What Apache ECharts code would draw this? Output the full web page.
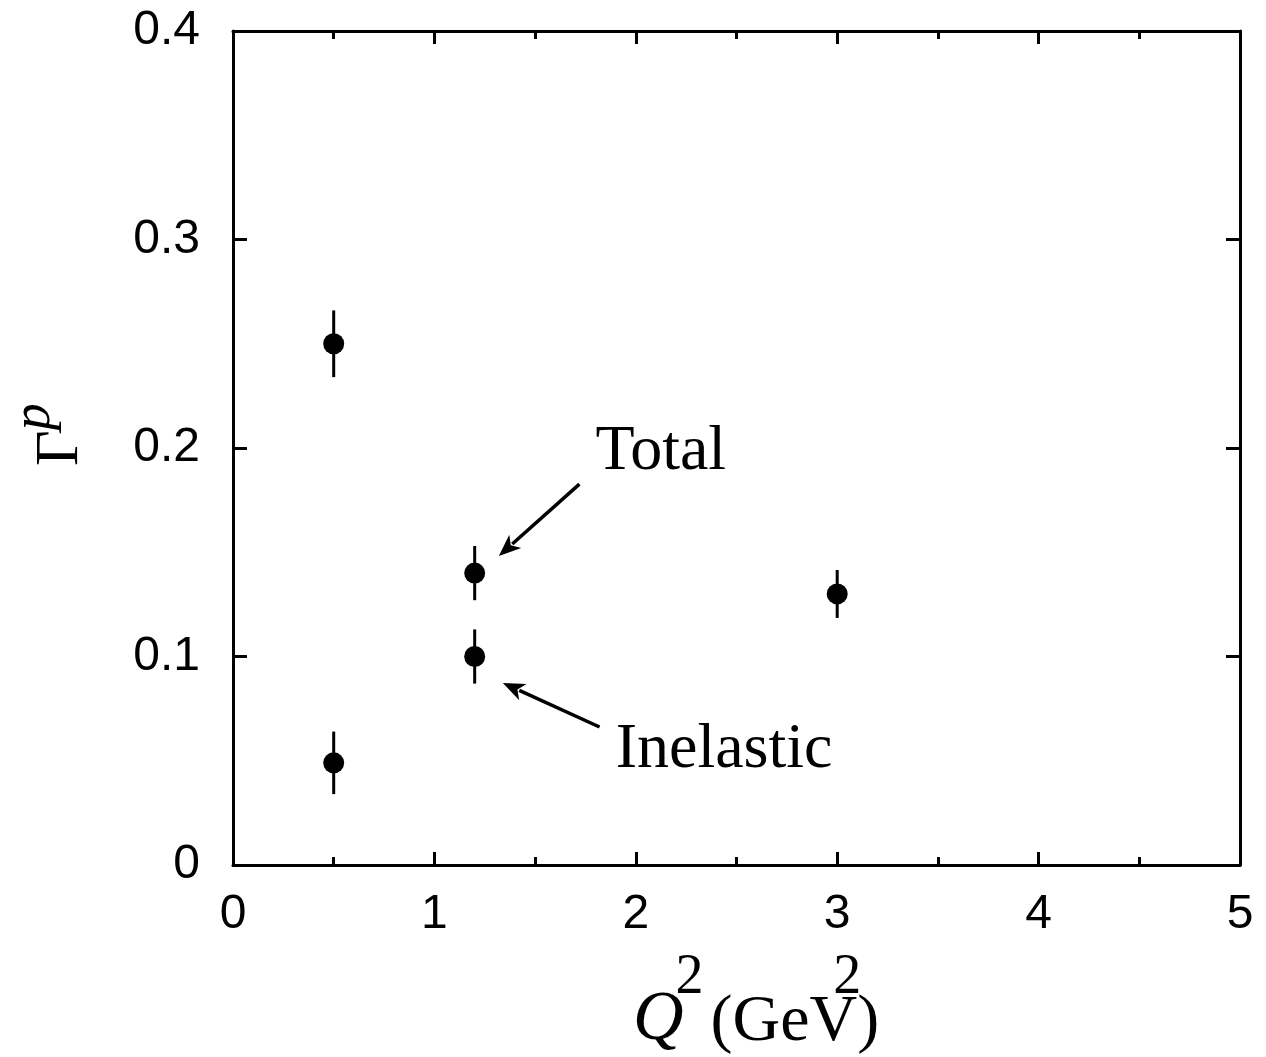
<!DOCTYPE html>
<html>
<head>
<meta charset="utf-8">
<script src="https://cdn.jsdelivr.net/npm/echarts@6/dist/echarts.min.js"></script>
<style>
html,body{margin:0;padding:0;background:#fff;}
#chart{width:1266px;height:1057px;}
</style>
</head>
<body>
<div id="chart"></div>
<script>
// Data
var q2Values = [0.5, 0.5, 1.2, 1.2, 3.0];
var gammaValues = [0.250, 0.049, 0.140, 0.100, 0.130];
var gammaErrors = [0.016, 0.015, 0.013, 0.013, 0.0115];
var xTicks = [0, 1, 2, 3, 4, 5];
var yTicks = [0, 0.1, 0.2, 0.3, 0.4];
// Annotations (data coordinates)
var annotationTexts = ['Total', 'Inelastic'];
var annotationTextPos = [[1.80, 0.198], [1.90, 0.0552]];
var arrowStarts = [[1.72, 0.1827], [1.82, 0.0662]];
var arrowEnds = [[1.32, 0.1482], [1.34, 0.0873]];

var points = q2Values.map(function (x, i) { return [x, gammaValues[i]]; });
var errData = q2Values.map(function (x, i) { return [x, gammaValues[i] - gammaErrors[i], gammaValues[i] + gammaErrors[i]]; });
var arrowData = arrowStarts.map(function (s, i) { return [s[0], s[1], arrowEnds[i][0], arrowEnds[i][1]]; });

var chart = echarts.init(document.getElementById('chart'));
var lineStyle = { color: '#000', width: 3 };
var tickFont = { fontFamily: 'Liberation Sans, Arial, sans-serif', fontSize: 48, color: '#000' };

function xAxisCfg(pos, showLabel) {
  return {
    type: 'value', position: pos, min: xTicks[0], max: xTicks[xTicks.length - 1], interval: 1,
    axisLine: { show: true, onZero: false, lineStyle: lineStyle },
    axisTick: { show: true, inside: true, length: 13, lineStyle: { color: '#000', width: 3 } },
    minorTick: { show: true, splitNumber: 2, length: 8, lineStyle: { color: '#000', width: 3 } },
    axisLabel: Object.assign({ show: showLabel, margin: 26 }, tickFont),
    splitLine: { show: false }
  };
}
function yAxisCfg(pos, showLabel) {
  return {
    type: 'value', position: pos, min: yTicks[0], max: yTicks[yTicks.length - 1], interval: 0.1,
    axisLine: { show: true, onZero: false, lineStyle: lineStyle },
    axisTick: { show: true, inside: true, length: 14, lineStyle: { color: '#000', width: 3 } },
    axisLabel: Object.assign({ show: showLabel, margin: 33, formatter: function (v) { return v === 0 ? '0' : v.toFixed(1); } }, tickFont),
    splitLine: { show: false }
  };
}

var option = {
  backgroundColor: '#fff',
  animation: false,
  grid: { left: 233, right: 26, top: 31, bottom: 192 },
  xAxis: [xAxisCfg('bottom', true), xAxisCfg('top', false)],
  yAxis: [yAxisCfg('left', true), yAxisCfg('right', false)],
  series: [
    {
      type: 'custom',
      xAxisIndex: 0, yAxisIndex: 0,
      data: errData,
      renderItem: function (params, api) {
        var lo = api.coord([api.value(0), api.value(1)]);
        var hi = api.coord([api.value(0), api.value(2)]);
        return { type: 'line', shape: { x1: lo[0], y1: lo[1], x2: hi[0], y2: hi[1] }, style: { stroke: '#000', lineWidth: 3 } };
      },
      z: 2
    },
    {
      type: 'scatter',
      xAxisIndex: 0, yAxisIndex: 0,
      data: points,
      symbol: 'circle', symbolSize: 21,
      itemStyle: { color: '#000', opacity: 1 },
      z: 3
    },
    {
      type: 'custom',
      xAxisIndex: 0, yAxisIndex: 0,
      data: arrowData,
      silent: true,
      renderItem: function (params, api) {
        var s = api.coord([api.value(0), api.value(1)]);
        var e = api.coord([api.value(2), api.value(3)]);
        var dx = e[0] - s[0], dy = e[1] - s[1];
        var len = Math.sqrt(dx * dx + dy * dy);
        var ux = dx / len, uy = dy / len;
        var hl = 22, hw = 9;
        var bx = e[0] - ux * hl, by = e[1] - uy * hl;
        return {
          type: 'group',
          children: [
            { type: 'line', shape: { x1: s[0], y1: s[1], x2: bx + ux * 4, y2: by + uy * 4 }, style: { stroke: '#000', lineWidth: 3.5 } },
            { type: 'polygon', shape: { points: [[e[0], e[1]], [bx - uy * hw, by + ux * hw], [bx + ux * 6, by + uy * 6], [bx + uy * hw, by - ux * hw]] }, style: { fill: '#000' } }
          ]
        };
      }
    },
    {
      type: 'scatter',
      xAxisIndex: 0, yAxisIndex: 0,
      data: annotationTextPos.map(function (p, i) { return { value: p, name: annotationTexts[i] }; }),
      symbolSize: 0,
      itemStyle: { opacity: 1 },
      label: {
        show: true, position: 'right', distance: 0,
        formatter: function (p) { return p.name; },
        fontFamily: 'Liberation Serif, Times New Roman, serif', fontSize: 64, color: '#000'
      },
      silent: true
    }
  ],
  graphic: [
    {
      type: 'text',
      left: 633, top: 950,
      style: {
        text: '{q|Q}{s|2}{g|(GeV}{s2|2}{p|)}',
        rich: {
          q: { fontFamily: 'Liberation Serif, serif', fontStyle: 'italic', fontSize: 70, verticalAlign: 'bottom', padding: [36, 0, 0, 0] },
          s: { fontFamily: 'Liberation Serif, serif', fontSize: 56, verticalAlign: 'top', padding: [0, 7, 0, -8] },
          g: { fontFamily: 'Liberation Serif, serif', fontSize: 66, verticalAlign: 'bottom', padding: [36, 0, 0, 0] },
          s2: { fontFamily: 'Liberation Serif, serif', fontSize: 56, verticalAlign: 'top', padding: [0, 0, 0, -24] },
          p: { fontFamily: 'Liberation Serif, serif', fontSize: 66, verticalAlign: 'bottom', padding: [36, 0, 0, -4] }
        },
        fill: '#000'
      }
    },
    {
      type: 'text',
      x: 92, y: 466,
      rotation: Math.PI / 2,
      style: {
        text: '{g|Γ}{p|p}',
        verticalAlign: 'bottom',
        rich: {
          g: { fontFamily: 'Liberation Serif, serif', fontSize: 62, verticalAlign: 'bottom', padding: [22, 0, 0, 0] },
          p: { fontFamily: 'Liberation Serif, serif', fontStyle: 'italic', fontSize: 54, verticalAlign: 'top' }
        },
        fill: '#000'
      }
    }
  ]
};
chart.setOption(option);
</script>
</body>
</html>
